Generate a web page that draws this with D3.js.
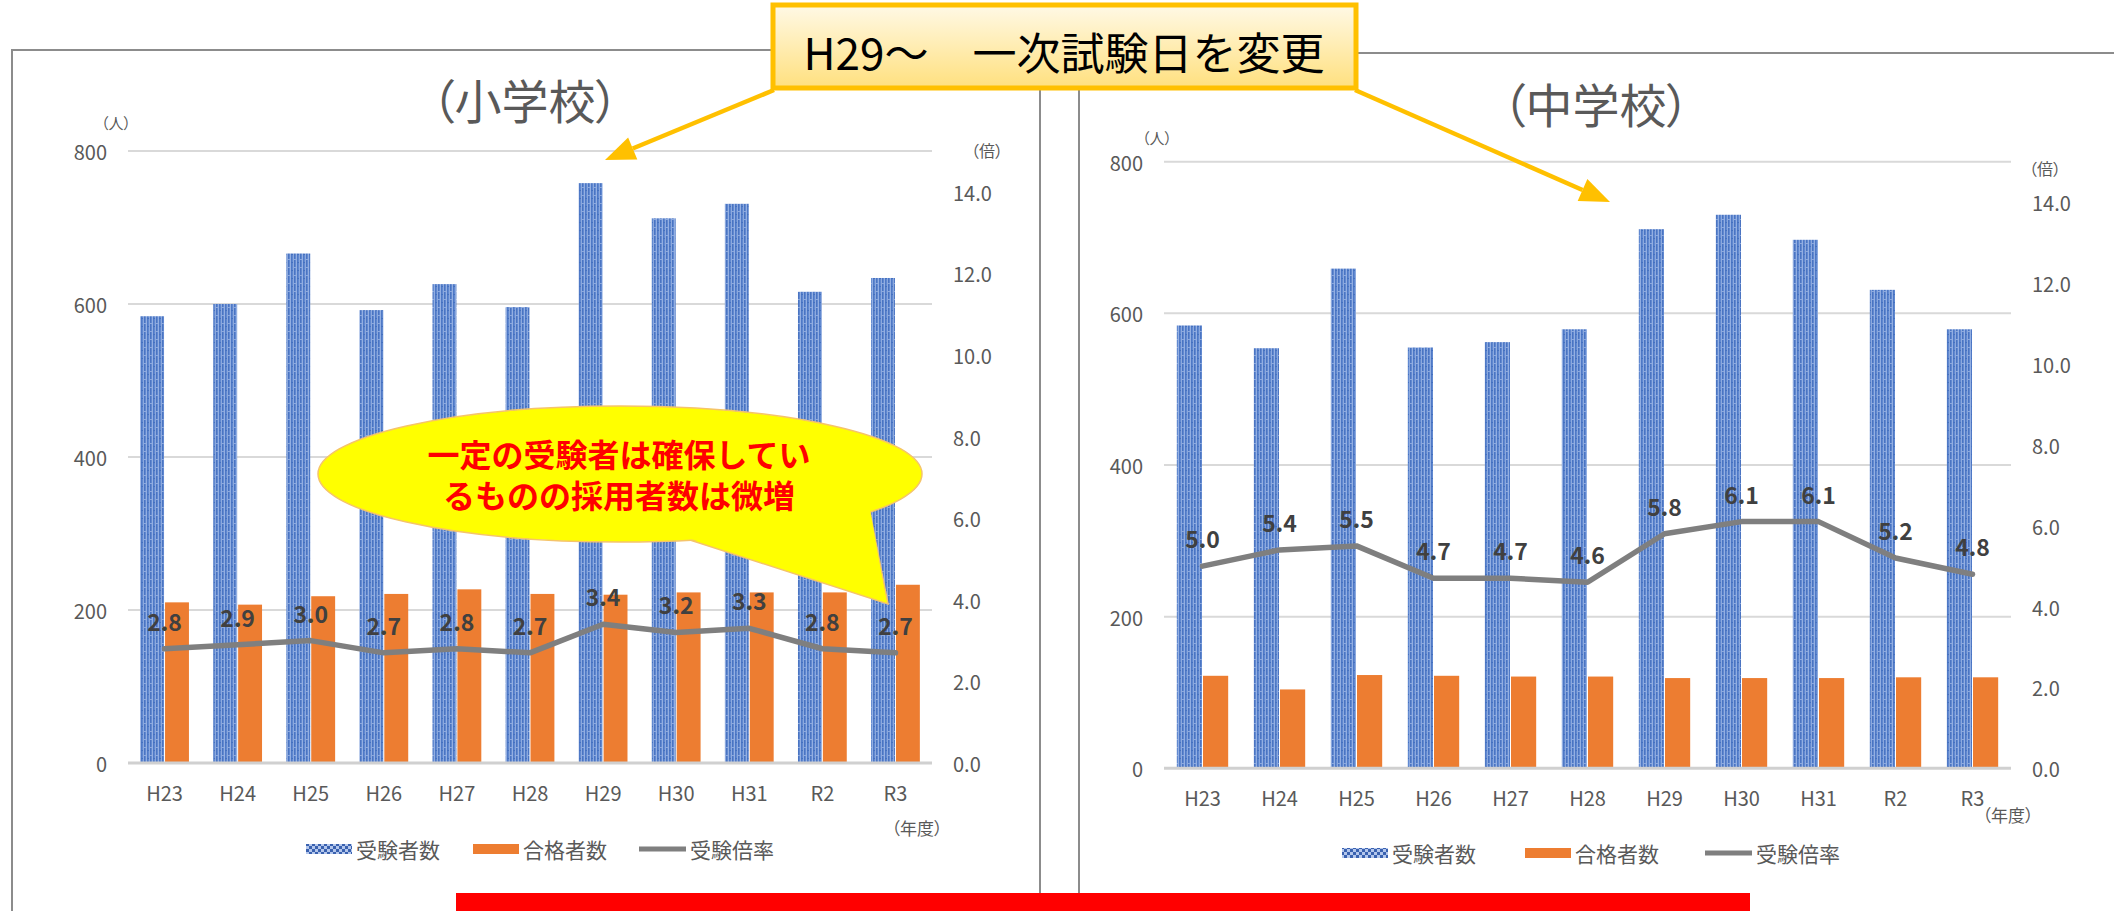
<!DOCTYPE html>
<html><head><meta charset="utf-8">
<script src="https://cdn.jsdelivr.net/npm/d3@7"></script>
<style>
html,body{margin:0;padding:0;background:#fff;overflow:hidden;}
svg{display:block;font-family:"Noto Sans CJK JP","Noto Sans",sans-serif;}
.palt{font-feature-settings:"palt";}
</style></head><body>
<svg id="c" width="2114" height="911"></svg>
<script>
// ---- data ----
const categories = ["H23","H24","H25","H26","H27","H28","H29","H30","H31","R2","R3"];
const elemApplicants = [584,600,666,592,626,596,758,712,731,616,634];
const elemPassers    = [210,207,218,221,227,221,220,223,223,223,233];
const elemRatio      = [2.8,2.9,3.0,2.7,2.8,2.7,3.4,3.2,3.3,2.8,2.7];
const juniorApplicants = [584,554,659,555,562,579,711,730,697,631,579];
const juniorPassers    = [122,104,123,122,121,121,119,119,119,120,120];
const juniorRatio      = [5.0,5.4,5.5,4.7,4.7,4.6,5.8,6.1,6.1,5.2,4.8];
const leftTicks  = [0,200,400,600,800];
const rightTicks = [0,2,4,6,8,10,12,14];
const seriesNames = ["受験者数","合格者数","受験倍率"];
const titles = ["（小学校）","（中学校）"];
const calloutText = "H29～　一次試験日を変更";
const bubbleLines = ["一定の受験者は確保してい","るものの採用者数は微増"];

// ---- layout ----
const layouts = [
  {x0:128, x1:932, yt:151, yb:763, titleX:525, titleY:98, unitL:[116,122], unitR:[987,150], nendo:[917,827], legY:849, legX:[306,473,639]},
  {x0:1164, x1:2011, yt:161.7, yb:768.3, titleX:1596, titleY:102, unitL:[1157,137], unitR:[2045,168], nendo:[2008,814], legY:853, legX:[1342,1525,1705]}
];
const C = {blue:"#4472C4", orange:"#ED7D31", gray:"#7F7F7F", text:"#595959", grid:"#D9D9D9"};

const svg = d3.select("#c");
const defs = svg.append("defs");

// bar pattern
const pat = defs.append("pattern").attr("id","bluePat").attr("patternUnits","userSpaceOnUse")
  .attr("width",6).attr("height",8);
pat.append("rect").attr("width",6).attr("height",8).attr("fill","#6189D0");
pat.append("rect").attr("x",0).attr("width",1).attr("height",8).attr("fill","#4A74C2");
pat.append("rect").attr("x",2).attr("width",1).attr("height",8).attr("fill","#93AFE2");
pat.append("rect").attr("x",3).attr("width",1).attr("height",8).attr("fill","#4F79C6");
pat.append("rect").attr("x",5).attr("width",1).attr("height",8).attr("fill","#8CA9DE");
pat.append("rect").attr("x",0).attr("y",3).attr("width",2).attr("height",1).attr("fill","#8CA9DE");
pat.append("rect").attr("x",3).attr("y",6).attr("width",2).attr("height",1).attr("fill","#4571C0");

const lpat = defs.append("pattern").attr("id","legPat").attr("patternUnits","userSpaceOnUse")
  .attr("width",6).attr("height",6);
lpat.append("rect").attr("width",6).attr("height",6).attr("fill","#3A62B0");
lpat.append("rect").attr("x",0).attr("y",0).attr("width",3).attr("height",3).attr("fill","#B4C7EC");
lpat.append("rect").attr("x",3).attr("y",3).attr("width",3).attr("height",3).attr("fill","#B4C7EC");

const grad = defs.append("linearGradient").attr("id","boxGrad").attr("x1",0).attr("y1",0).attr("x2",0).attr("y2",1);
grad.append("stop").attr("offset","0%").attr("stop-color","#FFF9E6");
grad.append("stop").attr("offset","100%").attr("stop-color","#FFE07E");

// panel borders
svg.append("path").attr("d","M12,911V50H1040V911").attr("fill","none").attr("stroke","#8C8C8C").attr("stroke-width",2);
svg.append("path").attr("d","M1079,911V53H2114").attr("fill","none").attr("stroke","#8C8C8C").attr("stroke-width",2);

function drawChart(L, title, applicants, passers, ratio){
  const g = svg.append("g");
  const x = d3.scaleBand().domain(categories).range([L.x0, L.x1]).paddingInner(0).paddingOuter(0);
  const yL = d3.scaleLinear().domain([0,800]).range([L.yb, L.yt]);
  const yR = d3.scaleLinear().domain([0,15]).range([L.yb, L.yt]);
  const cx = c => x(c) + x.bandwidth()/2;
  const bw = x.bandwidth()*0.327;

  // title
  g.append("text").attr("class","palt").attr("x",L.titleX).attr("y",L.titleY)
    .attr("text-anchor","middle").attr("dominant-baseline","central")
    .attr("font-size",47).attr("fill",C.text).text(title);

  // gridlines
  g.append("g").selectAll("line").data(leftTicks.filter(d=>d>0)).join("line")
    .attr("x1",L.x0).attr("x2",L.x1).attr("y1",d=>yL(d)).attr("y2",d=>yL(d))
    .attr("stroke",C.grid).attr("stroke-width",2);

  // left axis
  const ax = g.append("g").attr("transform",`translate(${L.x0},0)`)
    .call(d3.axisLeft(yL).tickValues(leftTicks).tickSize(0).tickPadding(21));
  ax.select(".domain").remove();
  ax.attr("font-family",null).attr("font-size",null);
  ax.selectAll("text").attr("font-size",20).attr("fill",C.text).attr("dy",null).attr("dominant-baseline","central");

  // right axis
  const ar = g.append("g").attr("transform",`translate(${L.x1},0)`)
    .call(d3.axisRight(yR).tickValues(rightTicks).tickFormat(d3.format(".1f")).tickSize(0).tickPadding(21));
  ar.select(".domain").remove();
  ar.attr("font-family",null).attr("font-size",null);
  ar.selectAll("text").attr("font-size",20).attr("fill",C.text).attr("dy",null).attr("dominant-baseline","central");

  // bars
  g.append("g").selectAll("rect").data(categories).join("rect")
    .attr("x",c=>cx(c)-bw-0.5).attr("width",bw)
    .attr("y",(c,i)=>yL(applicants[i])).attr("height",(c,i)=>yL(0)-yL(applicants[i]))
    .attr("fill","url(#bluePat)");
  g.append("g").selectAll("rect").data(categories).join("rect")
    .attr("x",c=>cx(c)+0.5).attr("width",bw)
    .attr("y",(c,i)=>yL(passers[i])).attr("height",(c,i)=>yL(0)-yL(passers[i]))
    .attr("fill",C.orange);

  // baseline
  g.append("line").attr("x1",L.x0).attr("x2",L.x1).attr("y1",yL(0)).attr("y2",yL(0))
    .attr("stroke","#D0D0D0").attr("stroke-width",3);

  // bottom axis
  const ab = g.append("g").attr("transform",`translate(0,${L.yb})`)
    .call(d3.axisBottom(x).tickSize(0).tickPadding(0));
  ab.select(".domain").remove();
  ab.attr("font-family",null).attr("font-size",null);
  ab.selectAll("text").attr("font-size",20).attr("fill",C.text).attr("y",29).attr("dy",null).attr("dominant-baseline","central");

  // ratio line
  const line = d3.line().x((d,i)=>cx(categories[i])).y(d=>yR(d));
  g.append("path").datum(ratio).attr("d",line).attr("fill","none")
    .attr("stroke",C.gray).attr("stroke-width",5.5).attr("stroke-linejoin","round").attr("stroke-linecap","round");

  // data labels
  g.append("g").selectAll("text").data(ratio).join("text")
    .attr("x",(d,i)=>cx(categories[i])).attr("y",d=>yR(d)-28)
    .attr("text-anchor","middle").attr("dominant-baseline","central")
    .attr("font-size",23).attr("font-weight","bold").attr("fill","#404040")
    .text(d=>d3.format(".1f")(d));

  // unit labels
  g.append("text").attr("class","palt").attr("x",L.unitL[0]).attr("y",L.unitL[1]).attr("text-anchor","middle")
    .attr("dominant-baseline","central").attr("font-size",15).attr("fill",C.text).text("（人）");
  g.append("text").attr("class","palt").attr("x",L.unitR[0]).attr("y",L.unitR[1]).attr("text-anchor","middle")
    .attr("dominant-baseline","central").attr("font-size",16).attr("fill",C.text).text("（倍）");
  g.append("text").attr("class","palt").attr("x",L.nendo[0]).attr("y",L.nendo[1]).attr("text-anchor","middle")
    .attr("dominant-baseline","central").attr("font-size",17).attr("fill",C.text).text("（年度）");

  // legend
  const lg = g.append("g");
  lg.append("rect").attr("x",L.legX[0]).attr("y",L.legY-5).attr("width",46).attr("height",10).attr("fill","url(#legPat)");
  lg.append("rect").attr("x",L.legX[1]).attr("y",L.legY-5).attr("width",46).attr("height",10).attr("fill",C.orange);
  lg.append("line").attr("x1",L.legX[2]).attr("x2",L.legX[2]+47).attr("y1",L.legY).attr("y2",L.legY)
    .attr("stroke",C.gray).attr("stroke-width",5);
  lg.selectAll("text").data(seriesNames).join("text")
    .attr("x",(d,i)=>L.legX[i]+(i===2?51:50)).attr("y",L.legY)
    .attr("dominant-baseline","central").attr("font-size",21).attr("fill",C.text).text(d=>d);
}

drawChart(layouts[0], titles[0], elemApplicants, elemPassers, elemRatio);
drawChart(layouts[1], titles[1], juniorApplicants, juniorPassers, juniorRatio);

// speech bubble
const bub = svg.append("g");
const tail = "M690,540L870,512L888,604Z";
bub.append("path").attr("d",tail).attr("fill","#FFFF00").attr("stroke","#F5C46A").attr("stroke-width",1.5);
bub.append("ellipse").attr("cx",620).attr("cy",474).attr("rx",302).attr("ry",68)
  .attr("fill","#FFFF00").attr("stroke","#F5C46A").attr("stroke-width",1.5);
bub.append("path").attr("d","M688,538L870,510L886,600Z").attr("fill","#FFFF00");
const bt = bub.append("text").attr("text-anchor","middle")
  .attr("font-size",32).attr("font-weight","bold").attr("fill","#FF0000");
bt.selectAll("tspan").data(bubbleLines).join("tspan")
  .attr("x",619).attr("y",(d,i)=>467+i*41).text(d=>d);

// arrows
function arrow(x1,y1,x2,y2){
  const ang = Math.atan2(y2-y1,x2-x1), len=30, w=12;
  const bx = x2 - len*Math.cos(ang), by = y2 - len*Math.sin(ang);
  svg.append("line").attr("x1",x1).attr("y1",y1).attr("x2",bx).attr("y2",by)
    .attr("stroke","#FFC000").attr("stroke-width",4.5);
  const px = -Math.sin(ang)*w, py = Math.cos(ang)*w;
  svg.append("path").attr("d",`M${x2},${y2}L${bx+px},${by+py}L${bx-px},${by-py}Z`).attr("fill","#FFC000");
}
arrow(774,90,605,160);
arrow(1355,90,1610,202);

// callout box
svg.append("rect").attr("x",773).attr("y",5).attr("width",583).attr("height",83)
  .attr("fill","url(#boxGrad)").attr("stroke","#FFC000").attr("stroke-width",5);
svg.append("text").attr("x",1064).attr("y",51).attr("text-anchor","middle").attr("dominant-baseline","central")
  .attr("font-size",44).attr("fill","#000").text(calloutText);

// red bar
svg.append("rect").attr("x",456).attr("y",893).attr("width",1294).attr("height",18).attr("fill","#FF0000");
</script>
</body></html>
